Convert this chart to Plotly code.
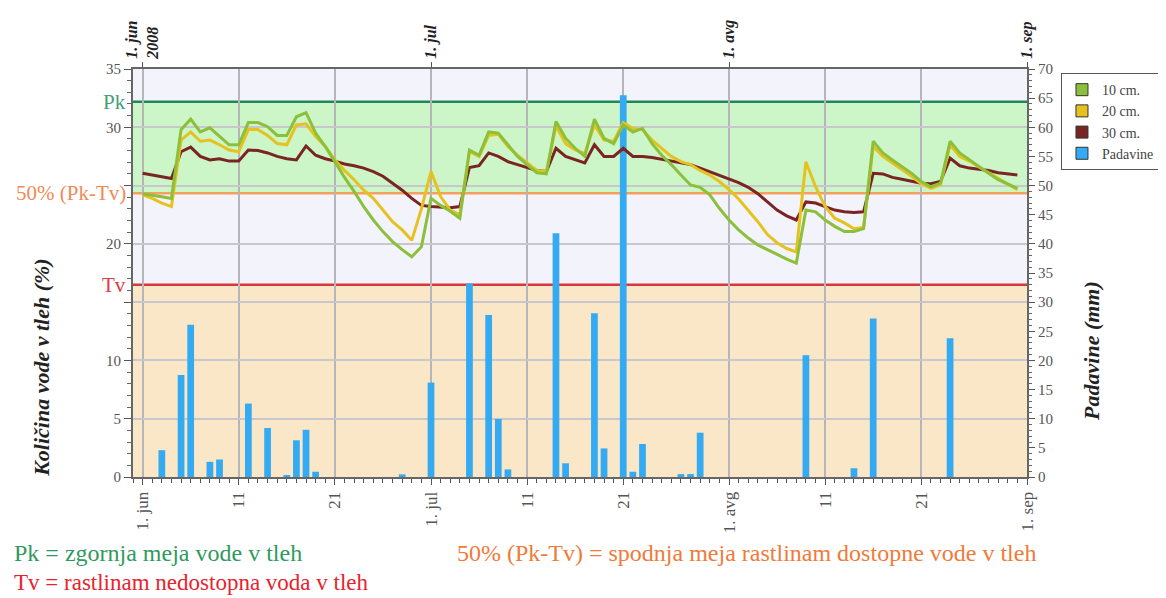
import plotly.graph_objects as go
import pandas as pd

# ---------------- data ----------------
days = pd.date_range("2008-06-01", "2008-08-31", freq="D")

soil_10cm = [24.3, 24.2, 24.05, 23.9, 29.8, 30.7, 29.6, 29.95, 29.2, 28.5,
             28.5, 30.4, 30.4, 30.05, 29.3, 29.3, 30.9, 31.25, 29.5, 28.35,
             27.05, 25.7, 24.5, 23.2, 22.05, 21.05, 20.2, 19.5, 18.9, 19.75,
             23.9, 23.3, 22.8, 22.2, 28.05, 27.6, 29.6, 29.5, 28.5, 27.5,
             26.8, 26.1, 26.0, 30.5, 29.05, 28.2, 27.5, 30.7, 29.05, 28.6,
             30.2, 29.6, 29.9, 28.6, 27.6, 26.8, 25.9, 25.05, 24.85, 24.2,
             23.05, 22.05, 21.2, 20.5, 19.9, 19.5, 19.05, 18.7, 18.35, 22.9,
             22.75, 22.05, 21.5, 21.05, 21.05, 21.3, 28.8, 27.8, 27.2, 26.6,
             26.05, 25.35, 24.9, 25.2, 28.8, 27.8, 27.2, 26.6, 26.05, 25.5,
             25.1, 24.75]

soil_20cm = [24.2, 23.9, 23.5, 23.2, 28.9, 29.6, 28.8, 28.9, 28.5, 28.05,
             27.9, 29.8, 29.8, 29.3, 28.6, 28.5, 30.2, 30.3, 29.2, 28.35,
             27.2, 26.3, 25.5, 24.6, 23.9, 22.9, 21.9, 21.2, 20.3, 23.0,
             26.2, 24.05, 22.9, 22.5, 27.9, 27.5, 29.3, 29.4, 28.35, 27.6,
             26.95, 26.3, 26.2, 30.1, 28.6, 28.05, 27.75, 30.2, 28.9, 28.8,
             30.4, 29.9, 29.8, 28.9, 28.2, 27.5, 27.05, 26.8, 26.3, 25.9,
             25.35, 24.65, 23.85, 22.9, 21.9, 20.8, 20.1, 19.6, 19.3, 27.05,
             24.9, 23.2, 22.2, 21.8, 21.3, 21.4, 28.35, 27.5, 26.95, 26.4,
             25.8, 25.15, 24.75, 25.05, 28.5, 27.5, 27.1, 26.6, 26.1, 25.6,
             25.1, 24.65]

soil_30cm = [26.05, 25.9, 25.75, 25.6, 27.9, 28.3, 27.5, 27.2, 27.3, 27.1,
             27.1, 28.05, 28.0, 27.8, 27.5, 27.3, 27.2, 28.4, 27.6, 27.3,
             27.1, 26.85, 26.7, 26.5, 26.2, 25.8, 25.2, 24.6, 23.9, 23.3,
             23.2, 23.15, 23.1, 23.2, 26.55, 26.7, 27.8, 27.5, 27.05, 26.8,
             26.55, 26.3, 26.2, 28.2, 27.5, 27.2, 26.95, 28.5, 27.5, 27.5,
             28.2, 27.5, 27.5, 27.4, 27.25, 27.1, 26.95, 26.8, 26.5, 26.2,
             25.9, 25.6, 25.25, 24.85, 24.3, 23.6, 22.9, 22.4, 22.05, 23.6,
             23.5, 23.2, 22.9, 22.75, 22.7, 22.75, 26.05, 26.0, 25.7, 25.55,
             25.35, 25.2, 25.15, 25.35, 27.35, 26.7, 26.5, 26.4, 26.3, 26.1,
             26.0, 25.9]

rain_dates = ["2008-06-03", "2008-06-05", "2008-06-06", "2008-06-08", "2008-06-09",
              "2008-06-12", "2008-06-14", "2008-06-16", "2008-06-17", "2008-06-18",
              "2008-06-19", "2008-06-28", "2008-07-01", "2008-07-05", "2008-07-07",
              "2008-07-08", "2008-07-09", "2008-07-14", "2008-07-15", "2008-07-18",
              "2008-07-19", "2008-07-21", "2008-07-22", "2008-07-23", "2008-07-27",
              "2008-07-28", "2008-07-29", "2008-08-09", "2008-08-14", "2008-08-16",
              "2008-08-24"]
rain_mm = [4.6, 17.5, 26.1, 2.6, 3.0,
           12.6, 8.4, 0.3, 6.3, 8.1,
           0.9, 0.45, 16.2, 33.2, 27.8,
           9.95, 1.3, 41.8, 2.35, 28.1,
           4.9, 65.5, 0.9, 5.66, 0.5,
           0.5, 7.6, 20.9, 1.5, 27.2,
           23.8]

PK = 32.2          # zgornja meja vode v tleh
TV = 16.5          # rastlinam nedostopna voda
HALF = (PK + TV) / 2

series_names = ["10 cm.", "20 cm.", "30 cm.", "Padavine"]
series_colors = ["#8cbf3a", "#e6c21e", "#7a2424", "#33aaf2"]

bottom_tickvals = ["2008-06-01", "2008-06-11", "2008-06-21", "2008-07-01", "2008-07-11",
                   "2008-07-21", "2008-08-01", "2008-08-11", "2008-08-21", "2008-09-01"]
bottom_ticktext = ["1. jun", "11", "21", "1. jul", "11", "21", "1. avg", "11", "21", "1. sep"]
top_tickvals = ["2008-06-01", "2008-07-01", "2008-08-01", "2008-09-01"]
top_ticktext = ["1. jun<br>2008", "1. jul", "1. avg", "1. sep"]
left_tickvals = [0, 5, 10, 15, 20, 25, 30, 35]
left_ticktext = ["0", "5", "10", "", "20", "", "30", "35"]
right_tickvals = list(range(0, 75, 5))

x_range = ["2008-05-31", "2008-09-01"]
SERIF = "Liberation Serif, Times New Roman, serif"
DAY_MS = 86400000

fig = go.Figure()

# precipitation bars (right axis, drawn underneath)
fig.add_trace(go.Bar(x=rain_dates, y=rain_mm, xaxis="x", yaxis="y",
                     marker=dict(color=series_colors[3], line=dict(width=0)),
                     width=0.7 * DAY_MS, showlegend=False, name=series_names[3]))

# soil moisture lines (left axis)
for vals, name, col in [(soil_30cm, series_names[2], series_colors[2]),
                        (soil_20cm, series_names[1], series_colors[1]),
                        (soil_10cm, series_names[0], series_colors[0])]:
    fig.add_trace(go.Scatter(x=days, y=vals, mode="lines", xaxis="x", yaxis="y2",
                             line=dict(color=col, width=3), name=name, showlegend=False))

# top axis carrier
fig.add_trace(go.Scatter(x=[top_tickvals[0], top_tickvals[-1]], y=[None, None],
                         xaxis="x2", yaxis="y2", showlegend=False, hoverinfo="skip"))

# legend entries (square swatches)
for i, (name, col) in enumerate(zip(series_names, series_colors)):
    fig.add_trace(go.Bar(x=[None], y=[None], xaxis="x", yaxis="y", name=name,
                         marker=dict(color=col, line=dict(color="#333", width=1)),
                         legendrank=i + 1, showlegend=True))

# background bands
bands = [(PK, 35, "#f3f3fb"), (HALF, PK, "#ccf6c8"), (TV, HALF, "#f3f3fb"), (0, TV, "#f9e7c8")]
for y0, y1, col in bands:
    fig.add_shape(type="rect", xref="paper", x0=0, x1=1, yref="y2", y0=y0, y1=y1,
                  fillcolor=col, line=dict(width=0), layer="below")

for val, col in [(PK, "#1f8a55"), (HALF, "#f5a060"), (TV, "#d8383c")]:
    fig.add_shape(type="line", xref="paper", x0=0, x1=1, yref="y2", y0=val, y1=val,
                  line=dict(color=col, width=2.5), layer="between")

# threshold labels on the left axis
for val, label, col in [(PK, "Pk", "#3f9f78"), (HALF, "50% (Pk-Tv)", "#f08a55"), (TV, "Tv", "#e03a45")]:
    fig.add_annotation(x=0, xref="paper", y=val, yref="y2", xanchor="right", yanchor="middle",
                       xshift=-5, text=label, showarrow=False,
                       font=dict(family=SERIF, size=21, color=col))

# axis titles
fig.add_annotation(x=-0.1018, xref="paper", y=0.27, yref="paper", textangle=-90,
                   text="Količina vode v tleh (%)", showarrow=False, xanchor="center", yanchor="middle",
                   font=dict(family=SERIF, size=22, color="#222", weight="bold", style="italic"))
fig.add_annotation(x=1.0727, xref="paper", y=0.309, yref="paper", textangle=-90,
                   text="Padavine (mm)", showarrow=False, xanchor="center", yanchor="middle",
                   font=dict(family=SERIF, size=22, color="#222", weight="bold", style="italic"))

# notes under the chart
fig.add_annotation(x=-0.1353, xref="paper", y=-0.1863, yref="paper", xanchor="left", yanchor="middle",
                   text="Pk = zgornja meja vode v tleh", showarrow=False,
                   font=dict(family=SERIF, size=24, color="#2f9a5e"))
fig.add_annotation(x=-0.1353, xref="paper", y=-0.2598, yref="paper", xanchor="left", yanchor="middle",
                   text="Tv = rastlinam nedostopna voda v tleh", showarrow=False,
                   font=dict(family=SERIF, size=23, color="#e8232c"))
fig.add_annotation(x=0.3602, xref="paper", y=-0.1863, yref="paper", xanchor="left", yanchor="middle",
                   text="50% (Pk-Tv) = spodnja meja rastlinam dostopne vode v tleh", showarrow=False,
                   font=dict(family=SERIF, size=24, color="#f07a3a"))

# the page adds an 8px body margin, so the figure is 8px smaller and margins shifted
fig.update_layout(
    width=1158, height=590,
    margin=dict(l=125, r=139, t=61, b=121, autoexpand=False),
    paper_bgcolor="white", plot_bgcolor="#f3f3fb",
    barmode="overlay",
    font=dict(family=SERIF, color="#555"),
    legend=dict(x=1.038, y=0.99, xanchor="left", yanchor="top",
                bordercolor="#555", borderwidth=1, bgcolor="white",
                font=dict(family=SERIF, size=14, color="#444"), tracegroupgap=2,
                itemwidth=30),
    xaxis=dict(type="date", range=x_range, tickvals=bottom_tickvals, ticktext=bottom_ticktext,
               tickangle=-90, ticks="outside", ticklen=6, tickcolor="#555", tickwidth=1,
               showgrid=True, gridcolor="#b6b6ba", gridwidth=2, automargin=False,
               showline=True, linecolor="#666", linewidth=2, zeroline=False,
               tickfont=dict(family=SERIF, size=17, color="#555"),
               minor=dict(dtick=DAY_MS, tick0="2008-06-01", ticks="outside", ticklen=4,
                          tickcolor="#555", showgrid=False)),
    xaxis2=dict(type="date", overlaying="x", side="top", anchor="y", range=x_range,
                tickvals=top_tickvals, ticktext=top_ticktext, tickangle=-90,
                ticks="outside", ticklen=5, tickcolor="#555", automargin=False,
                showgrid=False, showline=True, linecolor="#666", linewidth=2, zeroline=False,
                tickfont=dict(family=SERIF, size=16, color="#222", weight="bold", style="italic")),
    yaxis=dict(side="right", range=[0, 70], tickvals=right_tickvals, automargin=False,
               ticks="outside", ticklen=6, tickcolor="#555",
               showgrid=False, showline=True, linecolor="#666", linewidth=2, zeroline=False,
               tickfont=dict(family=SERIF, size=15, color="#555"),
               minor=dict(dtick=1, ticks="outside", ticklen=3, tickcolor="#666", showgrid=False)),
    yaxis2=dict(side="left", overlaying="y", anchor="x", range=[0, 35], automargin=False,
                tickvals=left_tickvals, ticktext=left_ticktext,
                ticks="outside", ticklen=7, tickcolor="#555",
                showgrid=True, gridcolor="#c8c8cc", gridwidth=1.5,
                showline=True, linecolor="#666", linewidth=2, zeroline=False,
                tickfont=dict(family=SERIF, size=15, color="#555"),
                minor=dict(dtick=1, ticks="outside", ticklen=4, tickcolor="#666", showgrid=False)),
)

fig.write_html("out.html")
